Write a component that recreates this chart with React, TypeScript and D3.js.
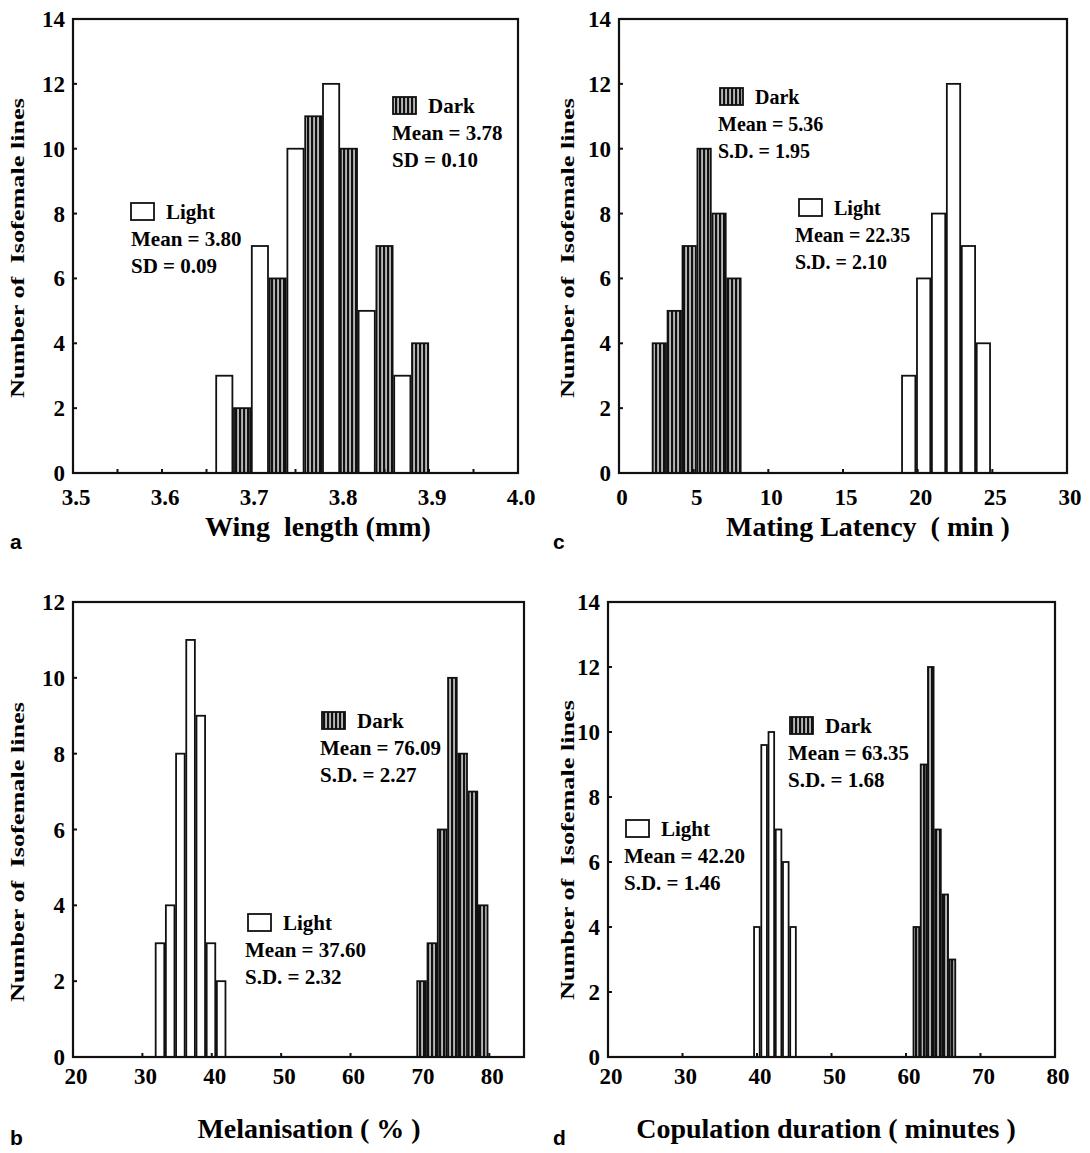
import React from 'react'
import * as d3 from 'd3'

// counts of isofemale lines per bin
const wingLight = [3, 7, 10, 12, 5, 3]
const wingDark = [2, 6, 11, 10, 7, 4]
const latencyDark = [4, 5, 7, 10, 8, 6]
const latencyLight = [3, 6, 8, 12, 7, 4]
const melanLight = [3, 4, 8, 11, 9, 3, 2]
const melanDark = [2, 3, 6, 10, 8, 7, 4]
const copLight = [4, 9.6, 10, 7, 6, 4]
const copDark = [4, 9, 12, 7, 5, 3]

const wingTicks = [3.5, 3.6, 3.7, 3.8, 3.9, 4.0]
const latencyTicks = [0, 5, 10, 15, 20, 25, 30]
const melanTicks = [20, 30, 40, 50, 60, 70, 80]
const copTicks = [20, 30, 40, 50, 60, 70, 80]

const serif = '"Liberation Serif", "Times New Roman", serif'
const sans = '"Liberation Sans", Arial, sans-serif'

type Series = { start: number; width: number; values: number[]; dark: boolean; sub: [number, number] }
type Legend = { x: number; y: number; tx: number; label: string; mean: string; sd: string; dark: boolean }

type PanelCfg = {
  left: number; right: number; top: number; bottom: number
  xDomain: [number, number]; yMax: number
  ticks: number[]; fmt: (v: number) => string; minor: number[]
  series: Series[]; legends: Legend[]; legendSize: number
  title: string; titleX: number; letter: string; letterX: number
  yTitleX: number; yTitleY: number
  tickDy: number; titleY: number; letterY: number
}

const panels: PanelCfg[] = [
  {
    left: 73, right: 518, top: 19, bottom: 473,
    xDomain: [3.5, 4.0], yMax: 14,
    ticks: wingTicks, fmt: d3.format('.1f'), minor: d3.range(3.55, 3.99, 0.05),
    series: [
      { start: 3.66, width: 0.04, values: wingLight, dark: false, sub: [0, 0.5] },
      { start: 3.66, width: 0.04, values: wingDark, dark: true, sub: [0.5, 1] },
    ],
    legends: [
      { x: 393, y: 97, tx: 392, label: 'Dark', mean: 'Mean = 3.78', sd: 'SD = 0.10', dark: true },
      { x: 131, y: 203, tx: 131, label: 'Light', mean: 'Mean = 3.80', sd: 'SD = 0.09', dark: false },
    ],
    legendSize: 21,
    title: 'Wing  length (mm)', titleX: 318, letter: 'a', letterX: 10,
    yTitleX: 24, yTitleY: 248, tickDy: 32, titleY: 536, letterY: 549,
  },
  {
    left: 619, right: 1067, top: 19, bottom: 473,
    xDomain: [0, 30], yMax: 14,
    ticks: latencyTicks, fmt: d3.format('d'), minor: [5, 10, 15, 20, 25],
    series: [
      { start: 2.2, width: 1.0, values: latencyDark, dark: true, sub: [0, 1] },
      { start: 18.9, width: 1.0, values: latencyLight, dark: false, sub: [0, 1] },
    ],
    legends: [
      { x: 720, y: 88, tx: 718, label: 'Dark', mean: 'Mean =  5.36', sd: 'S.D. = 1.95', dark: true },
      { x: 799, y: 199, tx: 795, label: 'Light', mean: 'Mean =  22.35', sd: 'S.D. = 2.10', dark: false },
    ],
    legendSize: 20,
    title: 'Mating Latency  ( min )', titleX: 868, letter: 'c', letterX: 553,
    yTitleX: 574, yTitleY: 248, tickDy: 32, titleY: 536, letterY: 549,
  },
  {
    left: 73, right: 524, top: 602, bottom: 1057,
    xDomain: [20, 85], yMax: 12,
    ticks: melanTicks, fmt: d3.format('d'), minor: [30, 40, 50, 60, 70, 80],
    series: [
      { start: 31.8, width: 1.47, values: melanLight, dark: false, sub: [0, 1] },
      { start: 69.5, width: 1.48, values: melanDark, dark: true, sub: [0, 1] },
    ],
    legends: [
      { x: 322, y: 712, tx: 320, label: 'Dark', mean: 'Mean = 76.09', sd: 'S.D. = 2.27', dark: true },
      { x: 248, y: 914, tx: 245, label: 'Light', mean: 'Mean = 37.60', sd: 'S.D. = 2.32', dark: false },
    ],
    legendSize: 21,
    title: 'Melanisation ( % )', titleX: 309, letter: 'b', letterX: 10,
    yTitleX: 24, yTitleY: 852, tickDy: 27, titleY: 1138, letterY: 1145,
  },
  {
    left: 608, right: 1055, top: 602, bottom: 1057,
    xDomain: [20, 80], yMax: 14,
    ticks: copTicks, fmt: d3.format('d'), minor: [30, 40, 50, 60, 70],
    series: [
      { start: 39.5, width: 0.97, values: copLight, dark: false, sub: [0, 1] },
      { start: 60.9, width: 0.97, values: copDark, dark: true, sub: [0, 1] },
    ],
    legends: [
      { x: 790, y: 717, tx: 788, label: 'Dark', mean: 'Mean = 63.35', sd: 'S.D. = 1.68', dark: true },
      { x: 626, y: 820, tx: 624, label: 'Light', mean: 'Mean = 42.20', sd: 'S.D. = 1.46', dark: false },
    ],
    legendSize: 21,
    title: 'Copulation duration ( minutes )', titleX: 826, letter: 'd', letterX: 553,
    yTitleX: 574, yTitleY: 850, tickDy: 27, titleY: 1138, letterY: 1145,
  },
]

function Panel({ p }: { p: PanelCfg }) {
  const x = d3.scaleLinear().domain(p.xDomain).range([p.left, p.right])
  const y = d3.scaleLinear().domain([0, p.yMax]).range([p.bottom, p.top])
  const yTicks = d3.range(0, p.yMax + 1, 2)

  return (
    <g>
      {/* bars */}
      {p.series.map((s, si) =>
        s.values.map((v, i) => {
          const b0 = s.start + i * s.width
          const xa = x(b0 + s.sub[0] * s.width)
          const xb = x(b0 + s.sub[1] * s.width)
          return (
            <rect key={`${si}-${i}`} x={xa + 0.8} y={y(v)} width={xb - xa - 1.6} height={y(0) - y(v)}
              fill={s.dark ? 'url(#stripes)' : '#fff'} stroke="#111" strokeWidth={1.8} />
          )
        })
      )}

      {/* frame */}
      <rect x={p.left} y={p.top} width={p.right - p.left} height={p.bottom - p.top}
        fill="none" stroke="#111" strokeWidth={2.2} />

      {/* y ticks */}
      {yTicks.map(t => (
        <g key={t}>
          <line x1={p.left} x2={p.left + 4} y1={y(t)} y2={y(t)} stroke="#111" strokeWidth={2} />
          <text x={p.left - 8} y={y(t) + 8} textAnchor="end" fontFamily={serif} fontWeight="bold" fontSize={23}>{t}</text>
        </g>
      ))}

      {/* x ticks */}
      {p.minor.map(t => (
        <line key={t} x1={x(t)} x2={x(t)} y1={p.bottom} y2={p.bottom - 4} stroke="#111" strokeWidth={2} />
      ))}
      {p.ticks.map(t => (
        <text key={t} x={x(t) + 3} y={p.bottom + p.tickDy} textAnchor="middle" fontFamily={serif} fontWeight="bold" fontSize={23}>{p.fmt(t)}</text>
      ))}

      {/* axis titles and panel letter */}
      <text x={p.titleX} y={p.titleY} textAnchor="middle" fontFamily={serif} fontWeight="bold" fontSize={28}
        style={{ whiteSpace: 'pre' }}>{p.title}</text>
      <text x={p.letterX} y={p.letterY} fontFamily={sans} fontWeight="bold" fontSize={21}>{p.letter}</text>
      <text transform={`translate(${p.yTitleX},${p.yTitleY}) rotate(-90)`} textAnchor="middle"
        fontFamily={serif} fontWeight="bold" fontSize={19} textLength={300} lengthAdjust="spacingAndGlyphs"
        style={{ whiteSpace: 'pre' }}>Number of  Isofemale lines</text>

      {/* legends */}
      {p.legends.map((l, i) => (
        <g key={i} fontFamily={serif} fontWeight="bold" fontSize={p.legendSize} style={{ whiteSpace: 'pre' }}>
          <rect x={l.x} y={l.y} width={23} height={17} fill={l.dark ? 'url(#stripes)' : '#fff'} stroke="#111" strokeWidth={1.8} />
          <text x={l.x + 35} y={l.y + 16}>{l.label}</text>
          <text x={l.tx} y={l.y + 43}>{l.mean}</text>
          <text x={l.tx} y={l.y + 70}>{l.sd}</text>
        </g>
      ))}
    </g>
  )
}

export default function App() {
  return (
    <svg width={1090} height={1153} style={{ position: 'absolute', left: 0, top: 0, background: '#fff' }}>
      <defs>
        <pattern id="stripes" patternUnits="userSpaceOnUse" width={4} height={10}>
          <rect width={4} height={10} fill="#111" />
          <rect x={1.4} width={1.3} height={10} fill="#fff" />
        </pattern>
      </defs>
      <rect width={1090} height={1153} fill="#fff" />
      {panels.map((p, i) => <Panel key={i} p={p} />)}
    </svg>
  )
}
